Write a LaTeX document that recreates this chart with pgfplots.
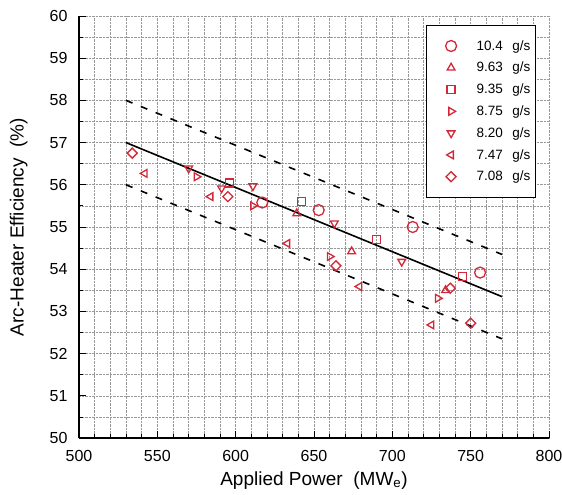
\documentclass[border=0pt]{standalone}
\usepackage{fontspec}
\setmainfont{Liberation Sans}
\usepackage{pgfplots}
\pgfplotsset{compat=1.18}
\usetikzlibrary{calc}
\definecolor{mred}{RGB}{210,40,55}
\pgfdeclareplotmark{sq}{%
  \pgfpathrectangle{\pgfqpoint{-\pgfplotmarksize}{-\pgfplotmarksize}}{\pgfqpoint{2\pgfplotmarksize}{2\pgfplotmarksize}}%
  \pgfusepathqstroke}
\pgfdeclareplotmark{rdia}{%
  \pgfpathmoveto{\pgfqpoint{0pt}{\pgfplotmarksize}}%
  \pgfpathlineto{\pgfqpoint{\pgfplotmarksize}{0pt}}%
  \pgfpathlineto{\pgfqpoint{0pt}{-\pgfplotmarksize}}%
  \pgfpathlineto{\pgfqpoint{-\pgfplotmarksize}{0pt}}%
  \pgfpathclose\pgfusepathqstroke}
\begin{document}
\begin{tikzpicture}
\begin{axis}[
 scale only axis, width=470pt, height=422pt,
 xmin=500, xmax=800, ymin=50, ymax=60,
 xtick={500,550,...,800}, ytick={50,51,...,60},
 minor x tick num=4, minor y tick num=1,
 grid=both,
 major grid style={densely dotted, gray!80, line width=0.6pt},
 minor grid style={densely dotted, gray!80, line width=0.6pt},
 axis lines=left, axis line style={-, line width=1.2pt},
 tick align=inside,
 major tick length=7pt, minor tick length=4pt,
 every tick/.style={black, line width=0.8pt},
 /pgf/number format/assume math mode=true,
 ticklabel style={font=\fontsize{16}{19}\selectfont},
 xticklabel style={yshift=-9pt, /pgf/number format/.cd, fixed, 1000 sep={}},
 yticklabel style={xshift=-8pt},
 xlabel style={at={(axis description cs:0.5,-0.1)}, anchor=center, font=\fontsize{19}{22}\selectfont},
 ylabel style={at={(axis description cs:-0.128,0.5)}, rotate=0, anchor=center, font=\fontsize{19}{22}\selectfont},
 xlabel={Applied Power~~(MW\textsubscript{e})},
 ylabel={Arc-Heater Efficiency~~(\%)},
 legend style={at={(0.972,0.979)}, anchor=north east, draw=black, line width=1pt,
   font=\fontsize{13.5}{16}\selectfont, inner xsep=3pt, inner ysep=13pt, row sep=6.5pt},
 legend cell align=left,
 legend image code/.code={\path (0pt,0pt) (44pt,0pt); \draw[#1] plot coordinates {(21pt,0pt)};},
 mk/.style={only marks, color=mred, draw=mred, mark size=#1},
]
\addplot[black, line width=1.6pt, forget plot] coordinates {(530,57.0) (770,53.35)};
\addplot[black, line width=1.6pt, dash pattern=on 7pt off 9pt, forget plot] coordinates {(530,58.0) (770,54.35)};
\addplot[black, line width=1.6pt, dash pattern=on 7pt off 9pt, forget plot] coordinates {(530,56.0) (770,52.35)};
% 10.4 g/s
\addplot[mk=5.5, mark=o, mark options={draw=mred, line width=1.3pt, fill=none}] coordinates {(617,55.58) (653,55.40) (713,55.0) (756,53.92)};
% 9.63 g/s
\addplot[mk=4.5, mark=triangle, mark options={draw=mred, line width=1.3pt, fill=none}] coordinates {(639,55.32) (674,54.42) (734,53.50)};
% 9.35 g/s
\addplot[mk=4, mark=sq, mark options={draw=mred, line width=1.3pt, fill=none}] coordinates {(596,56.04) (642,55.60) (690,54.71) (745,53.82)};
% 8.75 g/s
\addplot[mk=4.5, mark=triangle, mark options={draw=mred, rotate=-90, line width=1.3pt, fill=none}] coordinates {(575,56.19) (611,55.50) (660,54.30) (729,53.31)};
% 8.20 g/s
\addplot[mk=4.5, mark=triangle, mark options={draw=mred, rotate=180, line width=1.3pt, fill=none}] coordinates {(570,56.39) (591,55.92) (611,55.97) (663,55.09) (706,54.18)};
% 7.47 g/s
\addplot[mk=4.5, mark=triangle, mark options={draw=mred, rotate=90, line width=1.3pt, fill=none}] coordinates {(542,56.27) (584,55.72) (633,54.61) (679,53.59) (725,52.68)};
% 7.08 g/s
\addplot[mk=5, mark=rdia, mark options={draw=mred, line width=1.3pt, fill=none}] coordinates {(534,56.75) (595,55.72) (664,54.08) (737,53.55) (750,52.72)};
\legend{10.4\hspace{0.7em}g/s, 9.63\hspace{0.7em}g/s, 9.35\hspace{0.7em}g/s, 8.75\hspace{0.7em}g/s, 8.20\hspace{0.7em}g/s, 7.47\hspace{0.7em}g/s, 7.08\hspace{0.7em}g/s}
\end{axis}
\pgfresetboundingbox
\path[use as bounding box] ($(current axis.south west)+(-79pt,-57pt)$) rectangle ($(current axis.north east)+(13pt,16pt)$);
\end{tikzpicture}
\end{document}
